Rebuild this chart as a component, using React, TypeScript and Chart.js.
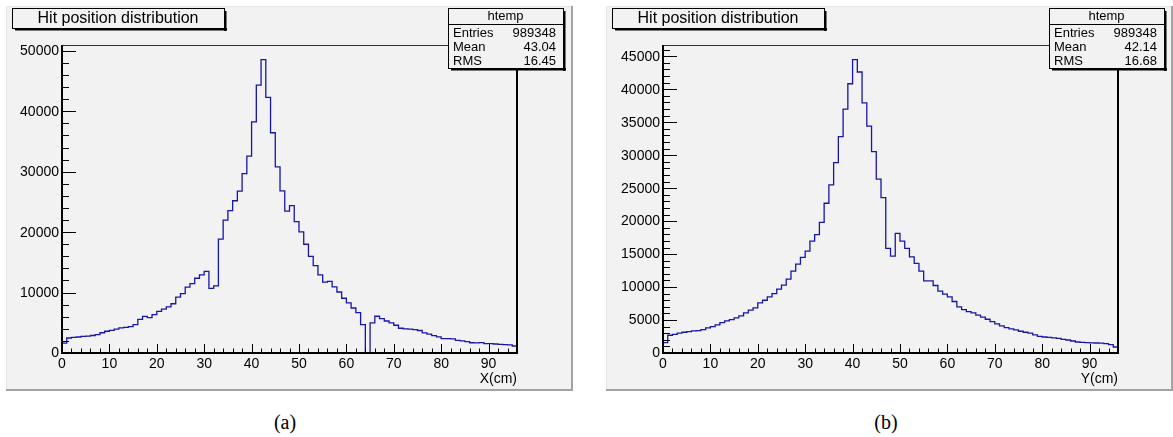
import React, { useEffect, useRef } from 'react';
import { Chart, registerables } from 'chart.js';

Chart.register(...registerables);

// Hit counts per 1 cm bin, 0–96 cm
const hitsX = [
  1650, 2480, 2600, 2650, 2750, 2800, 2900, 3050, 3350, 3600,
  3750, 3950, 4150, 4250, 4350, 4700, 5550, 6050, 5850, 6350,
  6900, 7250, 7620, 8150, 9250, 9820, 10900, 11480, 12370, 12920,
  13520, 10680, 11100, 18850, 22000, 23550, 25200, 26800, 29700, 32600,
  38250, 44330, 48550, 42300, 36450, 30800, 26850, 23480, 24400, 21750,
  20050, 18000, 16000, 14470, 12920, 11720, 11870, 10930, 10100, 9060,
  8280, 7450, 6690, 4700, 0, 5000, 6080, 5700, 5300, 4970,
  4590, 4100, 3980, 3950, 3880, 3720, 3330, 3110, 2890, 2670,
  2380, 2380, 2350, 2100, 2000, 1880, 1700, 1680, 1720, 1560,
  1540, 1490, 1440, 1380, 1330, 1160,
];

const hitsY = [
  1580, 2690, 2840, 3000, 3150, 3250, 3350, 3400, 3550, 3800,
  4000, 4260, 4610, 4870, 5070, 5330, 5630, 6080, 6490, 6840,
  7600, 8000, 8500, 9000, 9700, 10300, 11200, 12420, 13480, 14500,
  15460, 16980, 17940, 19820, 22710, 25490, 28880, 32830, 37000, 40840,
  44490, 42620, 37950, 34410, 30550, 26360, 23560, 15870, 14700, 18150,
  16980, 15870, 14590, 13590, 12420, 10950, 10950, 10240, 9380, 8920,
  8520, 7810, 6990, 6590, 6290, 6080, 5730, 5430, 5120, 4770,
  4410, 4110, 3860, 3650, 3500, 3300, 3150, 3000, 2740, 2530,
  2430, 2380, 2280, 2230, 2080, 1970, 1820, 1670, 1620, 1580,
  1550, 1520, 1500, 1420, 1270, 910,
];

const xTickLabels = ['0', '10', '20', '30', '40', '50', '60', '70', '80', '90'];
const yTickLabelsX = ['0', '10000', '20000', '30000', '40000', '50000'];
const yTickLabelsY = ['0', '5000', '10000', '15000', '20000', '25000', '30000', '35000', '40000', '45000'];
const statNames = ['Entries', 'Mean', 'RMS'];
const statsX = ['989348', '43.04', '16.45'];
const statsY = ['989348', '42.14', '16.68'];

const SANS = '"Liberation Sans", Arial, Helvetica, sans-serif';
const PAD_FILL = '#f2f2f2';
const LINE_COLOR = '#1616a8';

type Rect = { l: number; t: number; r: number; b: number };

interface PadSpec {
  values: number[];
  xTitle: string;
  yLabels: string[];
  yMajor: number;
  yMinor: number;
  stats: string[];
  canvasLeft: number;
  canvasWidth: number;
  canvasHeight: number;
  pad: Rect;
  frame: Rect;
  titleBox: Rect;
  statBox: Rect;
}

const shift = (r: Rect, dx: number): Rect => ({ l: r.l + dx, t: r.t, r: r.r + dx, b: r.b });

const FRAME: Rect = { l: 62, t: 45, r: 517, b: 353 };
const TITLE_BOX: Rect = { l: 12, t: 8, r: 224, b: 28 };
const STAT_BOX: Rect = { l: 448, t: 8, r: 563, b: 68 };

const padX: PadSpec = {
  values: hitsX,
  xTitle: 'X(cm)',
  yLabels: yTickLabelsX,
  yMajor: 10000,
  yMinor: 2000,
  stats: statsX,
  canvasLeft: 0,
  canvasWidth: 595,
  canvasHeight: 400,
  pad: { l: 6, t: 6, r: 573, b: 391 },
  frame: FRAME,
  titleBox: TITLE_BOX,
  statBox: STAT_BOX,
};

const padY: PadSpec = {
  values: hitsY,
  xTitle: 'Y(cm)',
  yLabels: yTickLabelsY,
  yMajor: 5000,
  yMinor: 1000,
  stats: statsY,
  canvasLeft: 595,
  canvasWidth: 578,
  canvasHeight: 400,
  pad: { l: 606, t: 6, r: 1173, b: 391 },
  frame: shift(FRAME, 601),
  titleBox: shift(TITLE_BOX, 600),
  statBox: shift(STAT_BOX, 601),
};

function drawPave(ctx: CanvasRenderingContext2D, box: Rect, ox: number) {
  const x0 = box.l - ox;
  const y0 = box.t;
  const w = box.r - box.l;
  const h = box.b - box.t;
  ctx.fillStyle = '#000';
  ctx.fillRect(x0 + 3, y0 + h, w, 2.5);
  ctx.fillRect(x0 + w, y0 + 3, 2.5, h);
  ctx.fillStyle = PAD_FILL;
  ctx.fillRect(x0, y0, w, h);
  ctx.strokeStyle = '#000';
  ctx.lineWidth = 1;
  ctx.strokeRect(x0 + 0.5, y0 + 0.5, w, h);
}

function rootPadPlugin(spec: PadSpec) {
  const ox = spec.canvasLeft;
  return {
    id: 'rootPad',
    beforeDraw(chart: any) {
      const ctx: CanvasRenderingContext2D = chart.ctx;
      const p = spec.pad;
      ctx.save();
      ctx.fillStyle = '#ffffff';
      ctx.fillRect(0, 0, chart.width, chart.height);
      ctx.fillStyle = PAD_FILL;
      ctx.fillRect(p.l - ox, p.t, p.r - p.l, p.b - p.t);
      ctx.fillStyle = '#e6e6e6';
      ctx.fillRect(p.l - ox, p.t, p.r - p.l, 1);
      ctx.fillRect(p.l - ox, p.t, 1, p.b - p.t);
      ctx.fillStyle = '#a3a3a3';
      ctx.fillRect(p.l - ox, p.b - 2, p.r - p.l, 2);
      ctx.fillRect(p.r - ox - 2, p.t, 2, p.b - p.t);
      ctx.restore();
    },
    afterDatasetsDraw(chart: any) {
      const ctx: CanvasRenderingContext2D = chart.ctx;
      const xs = chart.scales.x;
      const ys = chart.scales.y;
      const area = chart.chartArea;
      const L = area.left;
      const R = area.right;
      const T = area.top;
      const B = area.bottom;
      ctx.save();

      // frame
      ctx.fillStyle = '#303030';
      ctx.fillRect(L, T, R - L, 1);
      ctx.fillStyle = '#000';
      ctx.fillRect(R - 1, T, 2, B - T);
      ctx.fillRect(L - 1, T, 2, B - T + 1);
      ctx.fillRect(L - 1, B - 1, R - L + 2, 2);

      // y ticks (inward)
      ctx.strokeStyle = '#000';
      ctx.lineWidth = 1;
      ctx.beginPath();
      for (let v = 0; v <= ys.max; v += spec.yMinor) {
        const py = Math.round(ys.getPixelForValue(v)) + 0.5;
        const len = v % spec.yMajor === 0 ? 14 : 7;
        ctx.moveTo(L, py);
        ctx.lineTo(L + len, py);
      }
      // x ticks (inward)
      for (let v = 0; v <= xs.max; v += 2) {
        const px = Math.round(xs.getPixelForValue(v)) + 0.5;
        const len = v % 10 === 0 ? 9 : 4.5;
        ctx.moveTo(px, B);
        ctx.lineTo(px, B - len);
      }
      ctx.stroke();

      // tick labels
      ctx.fillStyle = '#000';
      ctx.font = `14px ${SANS}`;
      ctx.textAlign = 'right';
      ctx.textBaseline = 'middle';
      spec.yLabels.forEach((lab) => {
        ctx.fillText(lab, L - 3, ys.getPixelForValue(Number(lab)) + 0.5);
      });
      ctx.textAlign = 'center';
      xTickLabels.forEach((lab) => {
        ctx.fillText(lab, xs.getPixelForValue(Number(lab)), B + 11);
      });
      ctx.textAlign = 'right';
      ctx.fillText(spec.xTitle, R, B + 26.5);

      // title box
      const tb = spec.titleBox;
      drawPave(ctx, tb, ox);
      ctx.fillStyle = '#000';
      ctx.font = `16px ${SANS}`;
      ctx.textAlign = 'center';
      ctx.textBaseline = 'alphabetic';
      ctx.fillText('Hit position distribution', (tb.l + tb.r) / 2 - ox, 23);

      // statistics box
      const sb = spec.statBox;
      drawPave(ctx, sb, ox);
      ctx.fillStyle = '#000';
      ctx.fillRect(sb.l - ox, 24, sb.r - sb.l, 1);
      ctx.font = `13px ${SANS}`;
      ctx.textAlign = 'center';
      ctx.fillText('htemp', (sb.l + sb.r) / 2 - ox, 19.5);
      statNames.forEach((name, i) => {
        const base = 37 + i * 14.2;
        ctx.textAlign = 'left';
        ctx.fillText(name, sb.l - ox + 5, base);
        ctx.textAlign = 'right';
        ctx.fillText(spec.stats[i], sb.r - ox - 7, base);
      });
      ctx.restore();
    },
  };
}

function HistPad({ spec }: { spec: PadSpec }) {
  const ref = useRef<HTMLCanvasElement | null>(null);
  useEffect(() => {
    const canvas = ref.current;
    if (!canvas) return;
    const points = spec.values.map((v, i) => ({ x: i, y: v }));
    points.push({ x: spec.values.length, y: spec.values[spec.values.length - 1] });
    const yMax = Math.max(...spec.values) * 1.05;
    const f = spec.frame;
    const chart = new Chart(canvas, {
      type: 'line',
      data: {
        datasets: [
          {
            data: points,
            stepped: true,
            borderColor: LINE_COLOR,
            borderWidth: 1.3,
            pointRadius: 0,
            fill: false,
          },
        ],
      },
      options: {
        animation: false,
        responsive: false,
        maintainAspectRatio: false,
        devicePixelRatio: 1,
        events: [],
        layout: {
          padding: {
            left: f.l - spec.canvasLeft,
            top: f.t,
            right: spec.canvasLeft + spec.canvasWidth - f.r,
            bottom: spec.canvasHeight - f.b,
          },
        },
        scales: {
          x: { type: 'linear', min: 0, max: spec.values.length, display: false },
          y: { type: 'linear', min: 0, max: yMax, display: false },
        },
        plugins: {
          legend: { display: false },
          tooltip: { enabled: false },
        },
      },
      plugins: [rootPadPlugin(spec)],
    } as any);
    return () => chart.destroy();
  }, [spec]);
  return (
    <canvas
      ref={ref}
      width={spec.canvasWidth}
      height={spec.canvasHeight}
      style={{ position: 'absolute', left: spec.canvasLeft, top: 0, width: spec.canvasWidth, height: spec.canvasHeight }}
    />
  );
}

const captionStyle = (cx: number): React.CSSProperties => ({
  position: 'absolute',
  left: cx - 30,
  top: 411,
  width: 60,
  textAlign: 'center',
  fontFamily: '"Liberation Serif", "Times New Roman", serif',
  fontSize: 20,
  lineHeight: '22px',
  color: '#000',
});

export default function App() {
  return (
    <div style={{ position: 'absolute', left: 0, top: 0, width: 1173, height: 437, background: '#fff', overflow: 'hidden' }}>
      <HistPad spec={padX} />
      <HistPad spec={padY} />
      <div style={captionStyle(285)}>(a)</div>
      <div style={captionStyle(886)}>(b)</div>
    </div>
  );
}
